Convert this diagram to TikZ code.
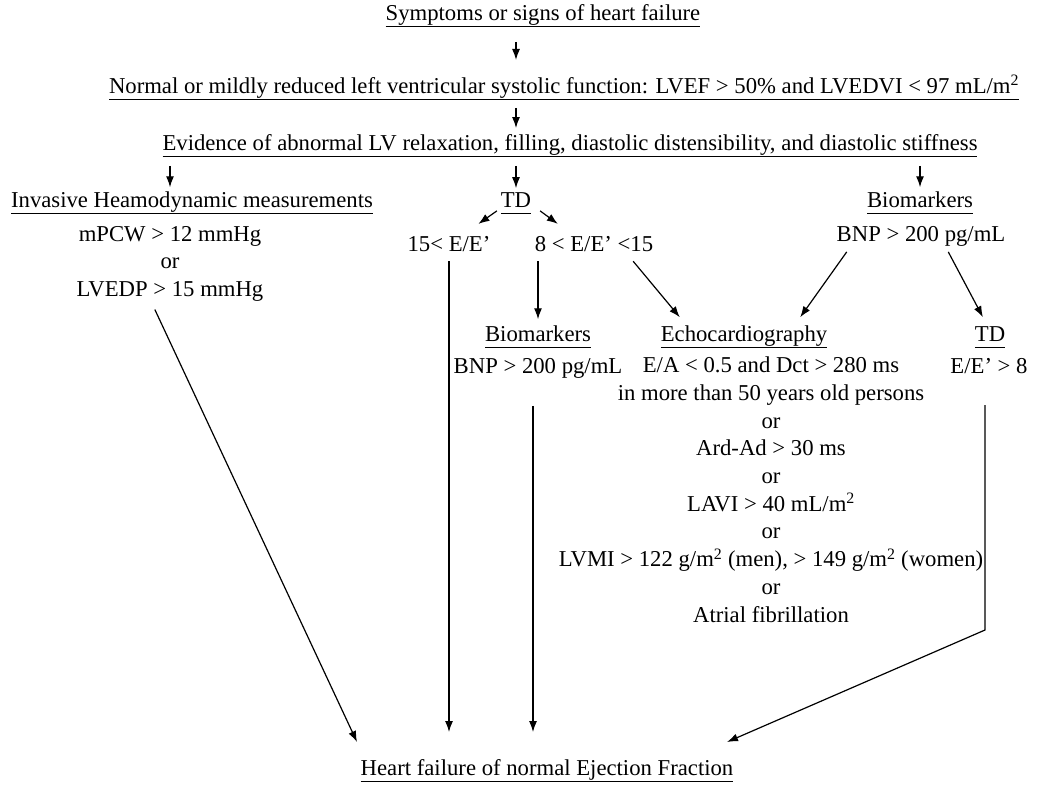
\documentclass[tikz,border=0pt]{standalone}
\usepackage{fontspec}
\setmainfont{Liberation Serif}
\usepackage{tikz}
\usetikzlibrary{arrows.meta}
\usetikzlibrary{positioning}
\newcommand{\uln}[1]{\underline{#1\vphantom{gy}}}

\begin{document}
\begin{tikzpicture}[x=1pt,y=1pt]
        \useasboundingbox (0,0) rectangle (1039,-785);
        \begin{scope}[every node/.style={anchor=base,inner sep=0pt,outer sep=0pt,align=center,
            font=\fontsize{22.7}{27.7}\selectfont}]
            \node (1) at (543,-20) {\uln{Symptoms or signs of heart failure}};
            \node (2) at (564,-93) {\uln{Normal or mildly reduced left ventricular systolic function: LVEF > 50\% and LVEDVI < 97 mL/m\textsuperscript{2}}};
            \node (3) at (570,-150) {\uln{Evidence of abnormal LV relaxation, filling, diastolic distensibility, and diastolic stiffness}};
            \node (4) at (192,-207) {\uln{Invasive Heamodynamic measurements}};
            \node[anchor=north] (5) at (170,-226) {mPCW > 12 mmHg\\ or\\ LVEDP > 15 mmHg};
            \node (6) at (516,-207) {\uln{TD}};
            \node (7) at (449,-251) {15< E/E’};
            \node (8) at (594,-251) {8 < E/E’ <15};
            \node (9) at (920,-207) {\uln{Biomarkers}};
            \node (10) at (921,-241) {BNP > 200 pg/mL};
            \node (11) at (538,-341) {\uln{Biomarkers}};
            \node (12) at (538,-373) {BNP > 200 pg/mL};
            \node (13) at (744,-341) {\uln{Echocardiography}};
            \node[anchor=north] (14) at (771,-357) {E/A < 0.5 and Dct > 280 ms\\ in more than 50 years old persons\\ or\\ Ard-Ad > 30 ms\\ or\\
                LAVI > 40 mL/m\textsuperscript{2}\\ or\\ LVMI > 122 g/m\textsuperscript{2} (men), > 149 g/m\textsuperscript{2} (women)\\ or\\ Atrial fibrillation};
            \node (15) at (990,-341) {\uln{TD}};
            \node (16) at (989,-373) {E/E’ > 8};
            \node (17) at (547,-775) {\uln{Heart failure of normal Ejection Fraction}};
        \end{scope}
        \coordinate (e1) at (357,-742);
        \coordinate (e2) at (449,-732);
        \coordinate (e3) at (533,-732);
        \coordinate (c4) at (985,-630);
        \coordinate (e4) at (727,-742);
        \begin{scope}[>={Latex[length=11pt,width=8pt]},
            every edge/.style={draw=black,line width=1.2pt}]
            \path [->] (1.south -| 6) edge[shorten <=15pt,shorten >=15pt] (2.north -| 6);
            \path [->] (2.south -| 6) edge[shorten <=8pt,shorten >=6pt] (3.north -| 6);
            \path [->] (3.south -| 5) edge[shorten <=9pt,shorten >=4pt] (4.north -| 5);
            \path [->] (3.south -| 6) edge[shorten <=9pt,shorten >=4pt] (6.north);
            \path [->] (3.south -| 9) edge[shorten <=9pt,shorten >=4pt] (9.north);
            \path [->] ([xshift=-4pt,yshift=3pt]6.south west) edge ([xshift=-12pt,yshift=12pt]7.north east);
            \path [->] ([xshift=9pt,yshift=3pt]6.south east) edge ([xshift=23pt,yshift=12pt]8.north west);
            \path [->] (7) edge[shorten <=10pt] (e2);
            \path [->] (8.south -| 11) edge[shorten <=10pt,shorten >=6pt] (11.north);
            \path [->] ([xshift=-20pt,yshift=-10pt]8.south east) edge ([xshift=19pt,yshift=8pt]13.north west);
            \path [->] ([xshift=10pt,yshift=-6pt]10.south west) edge ([xshift=-27pt,yshift=8pt]13.north east);
            \path [->] ([xshift=-57pt,yshift=-6pt]10.south east) edge ([xshift=8pt,yshift=9pt]15.north west);
            \path [->] (12.south -| e3) edge[shorten <=28pt] (e3);
            \path [->] ([xshift=-19pt]5.south) edge[shorten <=9pt] (e1);
            \draw [->,line width=1.2pt,shorten <=32pt] (16.south -| c4) -- (c4) -- (e4);
        \end{scope}
    \end{tikzpicture}
\end{document}
